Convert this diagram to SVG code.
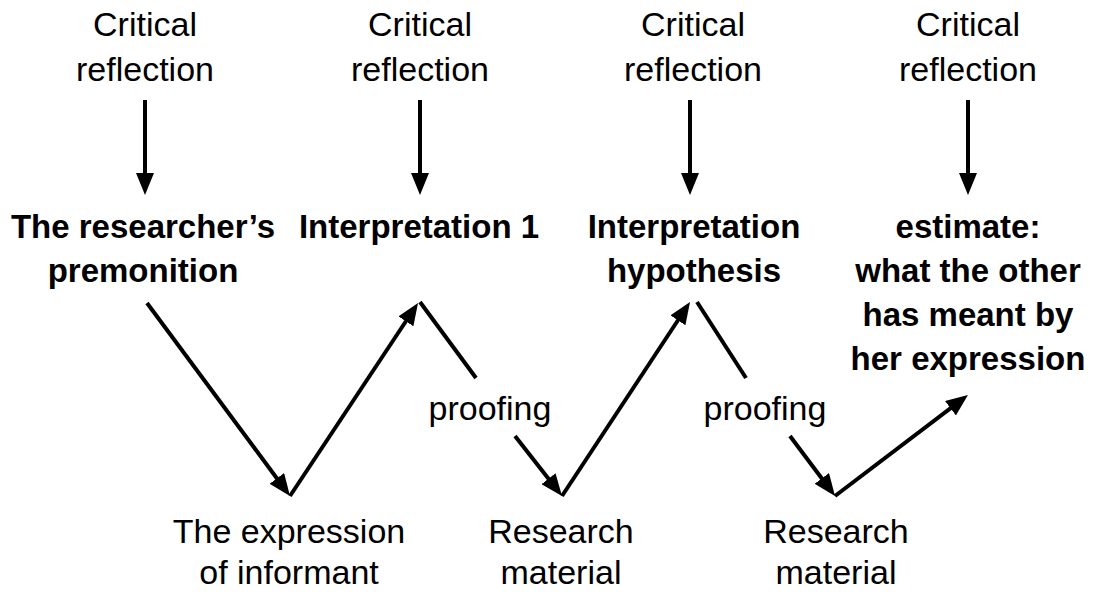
<svg xmlns="http://www.w3.org/2000/svg" width="1100" height="592" viewBox="0 0 1100 592">
  <style>
    .lbl { font-family: "Liberation Sans", Arial, sans-serif; font-size: 34px; fill: #000; text-anchor: middle; }
    .key { font-family: "Liberation Sans", Arial, sans-serif; font-size: 33px; font-weight: bold; fill: #000; text-anchor: middle; }
    .edge { stroke: #000; stroke-width: 4; fill: none; }
    .arrow { marker-end: url(#head); }
  </style>
  <defs>
    <marker id="head" markerUnits="userSpaceOnUse" markerWidth="22" markerHeight="18" refX="16" refY="9" orient="auto">
      <path d="M0,0 L22,9 L0,18 z" fill="#000"/>
    </marker>
  </defs>
  <rect width="1100" height="592" fill="#fff"/>

  <!-- reflection sources -->
  <g id="reflection-1"><text class="lbl" x="145" y="36">Critical</text><text class="lbl" x="145" y="81">reflection</text></g>
  <g id="reflection-2"><text class="lbl" x="420" y="36">Critical</text><text class="lbl" x="420" y="81">reflection</text></g>
  <g id="reflection-3"><text class="lbl" x="693" y="36">Critical</text><text class="lbl" x="693" y="81">reflection</text></g>
  <g id="reflection-4"><text class="lbl" x="968" y="36">Critical</text><text class="lbl" x="968" y="81">reflection</text></g>

  <!-- upper stages -->
  <g id="premonition"><text class="key" x="143" y="238">The researcher’s</text><text class="key" x="143" y="282">premonition</text></g>
  <g id="interpretation-1"><text class="key" x="419" y="238">Interpretation 1</text></g>
  <g id="hypothesis"><text class="key" x="694" y="238">Interpretation</text><text class="key" x="694" y="282">hypothesis</text></g>
  <g id="estimate">
    <text class="key" x="968" y="238">estimate:</text>
    <text class="key" x="968" y="282">what the other</text>
    <text class="key" x="968" y="326">has meant by</text>
    <text class="key" x="968" y="370">her expression</text>
  </g>

  <!-- lower stages -->
  <g id="expression"><text class="lbl" x="289" y="543">The expression</text><text class="lbl" x="289" y="584">of informant</text></g>
  <g id="material-1"><text class="lbl" x="561" y="543">Research</text><text class="lbl" x="561" y="584">material</text></g>
  <g id="material-2"><text class="lbl" x="836" y="543">Research</text><text class="lbl" x="836" y="584">material</text></g>

  <!-- proofing labels -->
  <g id="proofing-1"><text class="lbl" x="490" y="420">proofing</text></g>
  <g id="proofing-2"><text class="lbl" x="765" y="420">proofing</text></g>

  <!-- connectors -->
  <g id="connectors">
    <line class="edge arrow" x1="145" y1="100" x2="145" y2="189"/>
    <line class="edge arrow" x1="420" y1="100" x2="420" y2="189"/>
    <line class="edge arrow" x1="690" y1="100" x2="690" y2="189"/>
    <line class="edge arrow" x1="968" y1="100" x2="968" y2="189"/>

    <line class="edge arrow" x1="147" y1="303" x2="286.4" y2="491.2"/>
    <line class="edge arrow" x1="290" y1="496" x2="414.7" y2="308"/>
    <line class="edge" x1="420" y1="302" x2="476" y2="378"/>
    <line class="edge arrow" x1="515" y1="436" x2="558.3" y2="491.3"/>
    <line class="edge arrow" x1="562" y1="496" x2="686.7" y2="307"/>
    <line class="edge" x1="697" y1="302" x2="746" y2="378"/>
    <line class="edge arrow" x1="790" y1="436" x2="831.4" y2="491.2"/>
    <line class="edge arrow" x1="835" y1="496" x2="963.2" y2="398.6"/>
  </g>
</svg>
